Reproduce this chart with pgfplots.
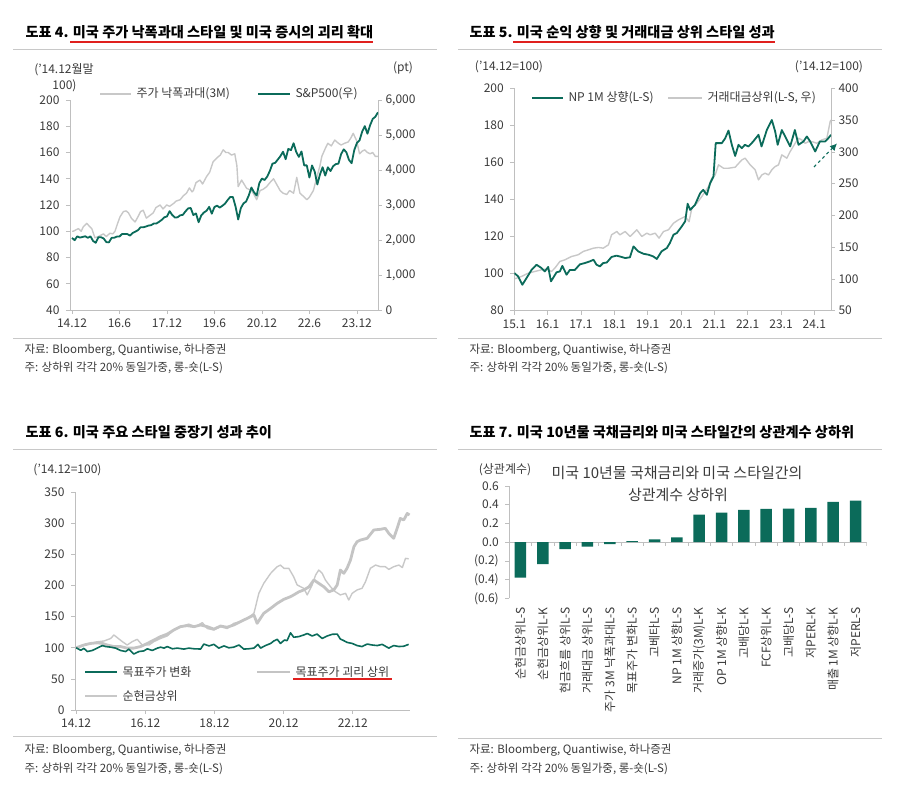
\documentclass[border=0pt]{standalone}
\usepackage{fontspec}
\setmainfont{Noto Sans CJK KR}
\usepackage{pgfplots}
\pgfplotsset{compat=1.18}
\usetikzlibrary{arrows.meta}
\definecolor{tgreen}{HTML}{0B6B5A}
\definecolor{lgray}{HTML}{C8C8C8}
\definecolor{tgray}{HTML}{C4C4C4}
\definecolor{axgray}{HTML}{BFBFBF}
\definecolor{txt}{HTML}{3A3A3A}
\definecolor{rulegray}{HTML}{C8C8C8}
\definecolor{ured}{HTML}{E0201E}
\begin{document}
\begin{tikzpicture}[x=1pt,y=1pt]
\path[use as bounding box] (0,0) rectangle (900,802);
\pgfplotsset{
  base/.style={scale only axis, anchor=south west,
    axis line style={draw=axgray,-}, tick style={draw=axgray, line width=0.6pt},
    major tick length=4pt, tick align=outside,
    tick label style={font=\fontsize{12}{13}\selectfont, text=txt},
    xticklabel style={yshift=-1.5pt},
    /pgf/number format/assume math mode=true,
    every axis plot/.append style={line join=round}},
  leftax/.style={yticklabel style={xshift=-3pt}},
}
\tikzset{ttl/.style={anchor=base west, font=\fontsize{14.2}{16}\selectfont\bfseries, text=black},
  lab/.style={font=\fontsize{12}{13}\selectfont, text=txt},
  src/.style={anchor=west, font=\fontsize{11.5}{13}\selectfont, text=txt}}

% ================= Panel 1 =================
\node[ttl] at (22,764) {도표 4. 미국 주가 낙폭과대 스타일 및 미국 증시의 괴리 확대};
\draw[ured, line width=1.5pt] (70,760) -- (373,760);
\draw[rulegray, line width=0.8pt] (13,752.5) -- (437,752.5);
\node[lab] at (64,732) {('14.12월말};
\node[lab] at (64.5,716) {100)};
\node[lab] at (403,734) {(pt)};
\draw[lgray, line width=1.4pt] (100,708) -- (131,708);
\node[lab, anchor=west] at (133,708) {주가 낙폭과대(3M)};
\draw[tgreen, line width=1.8pt] (258,708) -- (290,708);
\node[lab, anchor=west] at (292,708) {S\&P500(우)};

\begin{axis}[base, leftax, at={(70pt,492pt)}, width=308pt, height=210pt,
  xmin=-0.76, xmax=116, ymin=40, ymax=200,
  axis x line*=bottom, axis y line*=left,
  xtick={0,18,36,54,72,90,108}, xticklabels={14.12,16.6,17.12,19.6,20.12,22.6,23.12},
  ytick={40,60,80,100,120,140,160,180,200}]
\addplot[lgray, line width=1.4pt] coordinates {
(0,100)(0.5,100)(2.4,102)(3.5,100)(4.3,103.5)(5.6,106)(6.5,104)(7.5,102)(8.7,95)(10,96)
(11.9,98)(13,96)(14.4,98.5)(15.5,98)(16.3,100)(17.3,106)(18.2,111)(19.5,115)(20.5,115.5)(21.4,114)
(22.5,110)(23.9,107)(25,111)(26,115)(27,116)(28.2,110)(29.5,112)(30.8,114)(31.8,118)(33.4,120)
(34.5,117)(35.9,120)(37,119)(38.4,121)(39.5,123)(41,124)(42.2,127)(43.4,129)(44.5,133)(45.5,130)
(46,131)(47,137)(48.5,139)(49.5,136)(51,141.6)(52.2,145)(53.5,153)(55,156)(56.2,158)(57.3,162)
(58.3,160)(59.2,160)(60.5,158)(61.7,159)(62.5,150)(63,134)(64.3,139)(65.2,136)(66.2,132.7)(68,131)
(69,128)(70,124)(71.3,131)(72.5,132)(73.8,134)(75,137)(76.4,140)(77.5,136)(78.9,131)(80,129)
(81.4,128)(82.5,131)(84,129)(85.2,141)(86.4,129)(87.5,127)(89,124)(90,126)(91.5,131)(92.8,141)
(94,150)(94.7,157)(96,163)(97,167)(98.3,165)(99.6,169.5)(101,167)(102,165.7)(103.3,167)(104.7,168)
(105.7,171)(106.6,174.6)(107.9,169)(109,159)(110,161)(111,162)(112,160)(113,159)(114,160)(115,157)(116,157)};
\end{axis}
\begin{axis}[base, at={(70pt,492pt)}, width=308pt, height=210pt,
  xmin=-0.76, xmax=116, ymin=0, ymax=6000,
  axis x line=none, axis y line*=right,
  ytick={0,1000,2000,3000,4000,5000,6000},
  yticklabels={0,{1,000},{2,000},{3,000},{4,000},{5,000},{6,000}}]
\addplot[tgreen, line width=1.8pt] coordinates {
(0,2059)(1,1995)(2,2105)(3,2068)(4,2086)(5,2107)(6,2063)(7,2104)(8,1972)(9,1920)(10,2079)(11,2080)
(12,2044)(13,1940)(14,1932)(15,2060)(16,2065)(17,2097)(18,2099)(19,2174)(20,2171)(21,2168)(22,2126)(23,2199)
(24,2239)(25,2279)(26,2364)(27,2363)(28,2384)(29,2412)(30,2423)(31,2470)(32,2472)(33,2519)(34,2575)(35,2648)
(36,2674)(37,2824)(38,2714)(39,2641)(40,2648)(41,2705)(42,2718)(43,2816)(44,2902)(45,2914)(46,2712)(47,2760)
(48,2507)(49,2704)(50,2784)(51,2834)(52,2946)(53,2752)(54,2942)(55,2980)(56,2926)(57,2977)(58,3038)(59,3141)
(60,3231)(61,3226)(62,2954)(63,2585)(64,2912)(65,3044)(66,3100)(67,3271)(68,3500)(69,3363)(70,3270)(71,3622)
(72,3756)(73,3714)(74,3811)(75,3973)(76,4181)(77,4204)(78,4298)(79,4395)(80,4523)(81,4308)(82,4605)(83,4567)
(84,4766)(85,4516)(86,4374)(87,4530)(88,4132)(89,4132)(90,3785)(91,4130)(92,3955)(93,3586)(94,3872)(95,4080)
(96,3840)(97,4077)(98,3970)(99,4109)(100,4169)(101,4180)(102,4450)(103,4589)(104,4508)(105,4288)(106,4194)(107,4568)
(108,4770)(109,4846)(110,5096)(111,5254)(112,5036)(113,5278)(114,5460)(115,5522)(116,5648)};
\end{axis}
\draw[rulegray, line width=0.8pt] (13,464) -- (437,464);
\node[src] at (21,452) {자료: Bloomberg, Quantiwise, 하나증권};
\node[src] at (21,434) {주: 상하위 각각 20\% 동일가중, 롱-숏(L-S)};

% ================= Panel 2 =================
\node[ttl] at (466,764) {도표 5. 미국 순익 상향 및 거래대금 상위 스타일 성과};
\draw[ured, line width=1.5pt] (513,760) -- (775,760);
\draw[rulegray, line width=0.8pt] (458,752.5) -- (882,752.5);
\node[lab] at (509,735) {('14.12=100)};
\node[lab] at (829,735) {('14.12=100)};
\draw[tgreen, line width=1.8pt] (532,704) -- (563,704);
\node[lab, anchor=west] at (565,704) {NP 1M 상향(L-S)};
\draw[lgray, line width=1.4pt] (668,704) -- (702,704);
\node[lab, anchor=west] at (704,704) {거래대금상위(L-S, 우)};

\begin{axis}[base, at={(514.3pt,491.3pt)}, width=316.7pt, height=222.4pt,
  xmin=0, xmax=114, ymin=50, ymax=400,
  axis x line=none, axis y line*=right,
  ytick={50,100,150,200,250,300,350,400}]
\addplot[lgray, line width=1.4pt] coordinates {
(0,100)(2.6,103.9)(5,109)(7.4,111.7)(9.8,114.4)(11.6,115.4)(13.4,111.7)(14.6,117)(16.4,127.5)(18.2,130)
(20.6,135.3)(23,138)(24.8,143.2)(26.7,145.8)(28.5,148.4)(30.3,149.5)(32,148.4)(33.9,153.7)(35,169.4)(36.9,174.6)
(38,169.4)(39.9,174.6)(41.7,166.8)(42.9,172)(44.1,177.3)(45.9,166.8)(47.7,172)(48.9,169.4)(50.7,172)(52.1,164.2)
(53.7,174.6)(55.5,177.3)(57.3,187.7)(59.1,193)(61.5,198.2)(62.9,190)(63.9,211.3)(65.7,219)(67.5,229.7)(68.7,237.5)
(69.9,245.4)(71.1,258.5)(72.3,263.7)(73.5,279.5)(75.3,274.2)(77.1,274.2)(79.5,275.8)(81.9,287.3)(83.1,290)(84.9,279.5)
(86.7,271.6)(87.9,255.9)(89.1,263.7)(90.3,266.4)(91.5,263.7)(92.7,271.6)(93.9,276.8)(95.1,279.5)(96.3,295.2)(98.1,290)
(99.3,300.4)(101.1,313.5)(102.3,321.4)(103.5,318.8)(104.7,313.5)(105.9,316.1)(107.1,316.1)(108.9,313.5)(110.7,318.8)
(112.5,321.4)(113.7,347.6)(114,350)};
\end{axis}
\begin{axis}[base, leftax, at={(514.3pt,491.3pt)}, width=316.7pt, height=222.4pt,
  xmin=0, xmax=114, ymin=80, ymax=200,
  axis x line*=bottom, axis y line*=left,
  xtick={0,12,24,36,48,60,72,84,96,108},
  xticklabels={15.1,16.1,17.1,18.1,19.1,20.1,21.1,22.1,23.1,24.1},
  ytick={80,100,120,140,160,180,200}]
\addplot[tgreen, line width=1.8pt] coordinates {
(0,100.3)(1.4,98.5)(2.9,94)(4.4,97.6)(6.2,102)(8,104.8)(9.8,103)(11,101.2)(12.2,103.6)(13.2,95.8)
(15.2,100.7)(16.4,101.2)(17.3,104.2)(18.8,99.4)(20,102)(21.8,102)(23.6,105)(25.4,105.7)(27.2,106.6)(28.5,107.5)
(29.6,104.8)(30.8,103.9)(32,105.7)(33.3,106)(35,109)(36.8,109.7)(38.6,109)(39.9,108.4)(41.6,108.8)(42.9,114.7)
(44.6,112)(46.5,110.7)(48.3,110.2)(50,109.3)(51.3,107.9)(53,112)(54.9,113.8)(56,116.5)(57.3,121)(58.5,121.9)
(60.3,125.5)(61.5,128.2)(62.4,137.7)(63.3,134.4)(65,137)(66.9,143.4)(68,145.2)(69.3,142.5)(70.5,148.8)(71.7,152.4)
(72.5,170.4)(74.7,170.4)(75.9,173)(77.1,177.2)(78.3,169.5)(79.5,163.5)(80.7,169.5)(81.9,167.7)(83,169.5)(84.3,168.6)
(86,171.3)(87.9,174.9)(89,168.6)(90.9,177.5)(92.7,182.9)(93.9,176.7)(94.8,169.5)(96.3,177.5)(98.1,172.2)(99.3,168.6)
(101,177.5)(102.3,169.5)(104.1,171.3)(105.3,174)(106.5,171.3)(108.3,165.9)(110,171.3)(111.9,171.3)(113,173)(114,174.9)};
\end{axis}
\draw[tgreen, line width=1.1pt, dashed, -{Latex[length=7pt,width=7pt]}] (814,635) -- (837,658.5);
\draw[rulegray, line width=0.8pt] (458,464) -- (882,464);
\node[src] at (466,452) {자료: Bloomberg, Quantiwise, 하나증권};
\node[src] at (466,434) {주: 상하위 각각 20\% 동일가중, 롱-숏(L-S)};

% ================= Panel 3 =================
\node[ttl] at (22,364.5) {도표 6. 미국 주요 스타일 중장기 성과 추이};
\draw[rulegray, line width=0.8pt] (13,353) -- (437,353);
\node[lab] at (67.5,332) {('14.12=100)};
\begin{axis}[base, leftax, at={(75pt,92pt)}, width=335.4pt, height=217.7pt,
  xmin=-0.4, xmax=116, ymin=0, ymax=350,
  axis x line*=bottom, axis y line*=left,
  xtick={0,24,48,72,96}, xticklabels={14.12,16.12,18.12,20.12,22.12},
  ytick={0,50,100,150,200,250,300,350}]
\addplot[lgray, line width=1.4pt] coordinates {
(0,100)(2.7,104.5)(5,107)(7.3,109.6)(9.7,111)(12,115)(13.1,120.6)(16,110)(17.7,104.5)(19.5,110)
(21.2,113.6)(22.9,104.5)(25.3,104.5)(27,110)(29.3,115)(31.6,119)(33.9,128.6)(36.2,134)(39.1,138)(41.4,134)
(43.8,140.4)(45.5,131)(47.8,128.6)(50.1,134)(52.4,131)(54.7,139.3)(57,142)(59.4,147.4)(61.7,155.4)(63.4,187.6)
(65.1,203.6)(67.5,219.7)(69.8,230.4)(70.9,233)(72.1,227.8)(73.8,227.8)(75.5,214)(76.7,201)(79,195.6)(80.2,185)
(81.9,201)(83.1,217)(84.2,225)(85.4,219.7)(86.5,209)(88.3,198)(90,190)(91.7,185)(93.5,187.6)(94.6,176.8)
(95.8,187.6)(97.5,193)(99.2,195.6)(100.4,206)(102.1,227.8)(103.9,233)(105.6,230.4)(107.3,230.4)(108.5,226)(110.2,230.4)
(112,233)(113.2,229)(114.3,243.8)(115.4,243)};
\addplot[tgray, line width=2.8pt] coordinates {
(0,100)(2.7,104.5)(5,107)(7.3,108)(9.1,107)(10.8,104.5)(13.1,102)(15.4,102)(17.7,99.5)(20,99.5)
(22.4,102)(24.7,107)(27,112.5)(29.3,118)(31.6,122)(33.9,128.6)(36.2,134)(38.5,135.6)(40.9,134)(43.2,136.7)
(45.5,134)(47.8,130)(50.1,135)(52.4,133)(54.7,136.7)(57,142)(59.4,147.4)(61.7,152.7)(62.8,139.3)(65.1,155.4)
(67.5,163.4)(69.8,171.5)(72.1,178)(74.4,182.2)(75.5,185)(77.3,190)(79,193)(80.8,198)(82.5,209)(84.2,203.6)
(86,198)(87.7,190)(89.4,193)(90.6,201)(91.7,225)(92.9,219.7)(94,227.8)(95.2,241)(96.4,262.6)(97.5,270.6)
(98.7,273.3)(101,276)(103.3,289.4)(105.6,290.5)(107.3,292)(108.5,284)(110.2,276)(111.4,292)(112.5,308)(113.7,305.5)
(114.9,316)(115.7,313.5)};
\addplot[tgreen, line width=1.6pt] coordinates {
(0,100)(1.6,96)(2.7,99)(3.9,94)(5.6,95.7)(7.3,99.5)(9.1,103.6)(10.2,102)(12,101)(13.7,99.5)
(15.4,95.7)(17.2,94)(18.3,97.9)(20,90)(21.8,94)(23.5,95)(24.7,98.4)(26.4,95.7)(28.2,99.5)(29.3,101)
(30.5,99.5)(31.6,102)(33.4,98.4)(35.1,99.5)(37.4,97.9)(39.1,99.5)(40.9,98.4)(43.2,98)(44.3,106)(46.1,103)
(47.8,105.5)(49.5,99.5)(51.3,103)(53,100)(54.7,101)(56.5,104.5)(58.2,97.9)(59.9,98.4)(61.7,99.5)(63.1,105.5)
(64,99.5)(65.7,103.6)(67.5,107)(68.6,111)(69.8,113.6)(70.9,107)(72.3,112.5)(73.2,111.5)(74.4,124)(75.5,117)
(77.3,118)(79,120.6)(80.2,123)(81.9,119)(83.6,122)(85.4,115)(87.1,119)(88.9,121.7)(90.6,122)(91.7,114)
(92.9,111.5)(94,108.7)(95.8,107)(97.5,103.6)(99.2,102)(101,106)(102.7,104.5)(104.5,103.6)(106.2,105.5)(108.5,99.5)
(110.2,103.6)(112,102)(113.7,102.5)(115.4,105.5)};
\end{axis}
\draw[tgreen, line width=1.6pt] (85,130) -- (117,130);
\node[lab, anchor=west] at (119,130) {목표주가 변화};
\draw[tgray, line width=2.8pt] (257,130) -- (290,130);
\node[lab, anchor=west] at (292,130) {목표주가 괴리 상위};
\draw[ured, line width=1.3pt] (293,123) -- (392,123);
\draw[lgray, line width=1.4pt] (85,106) -- (117,106);
\node[lab, anchor=west] at (119,106) {순현금상위};
\draw[rulegray, line width=0.8pt] (13,65.3) -- (437,65.3);
\node[src] at (21,52) {자료: Bloomberg, Quantiwise, 하나증권};
\node[src] at (21,33) {주: 상하위 각각 20\% 동일가중, 롱-숏(L-S)};

% ================= Panel 4 =================
\node[ttl] at (466,364.5) {도표 7. 미국 10년물 국채금리와 미국 스타일간의 상관계수 상하위};
\draw[rulegray, line width=0.8pt] (458,353) -- (882,353);
\node[lab] at (505,332) {(상관계수)};
\node[font=\fontsize{15}{17}\selectfont, text=txt] at (677,329) {미국 10년물 국채금리와 미국 스타일간의};
\node[font=\fontsize{15}{17}\selectfont, text=txt] at (678,307) {상관계수 상하위};
\begin{axis}[base, leftax, at={(509.3pt,203.7pt)}, width=357.4pt, height=112.3pt,
  ybar, bar width=11.5pt, xmin=0.5, xmax=16.5, ymin=-0.6, ymax=0.6,
  axis y line*=left, axis x line*=bottom, x axis line style={draw=none},
  xtick={1,2,3,4,5,6,7,8,9,10,11,12,13,14,15,16}, xtick style={draw=none},
  xticklabels={순현금상위L-S,순현금상위L-K,현금흐름 상위L-S,거래대금 상위L-S,주가 3M 낙폭과대L-S,목표주가 변화L-S,고베타L-S,NP 1M 상향L-S,거래증가(3M)L-K,OP 1M 상향L-K,고배당L-K,FCF상위L-K,고배당L-S,저PERL-K,매출 1M 상향L-K,저PERL-S},
  xticklabel style={rotate=90, anchor=east, yshift=0pt, font=\fontsize{12}{13}\selectfont},
  ytick={-0.6,-0.4,-0.2,0,0.2,0.4,0.6},
  yticklabels={(0.6),(0.4),(0.2),0.0,0.2,0.4,0.6}]
\draw[axgray, line width=0.7pt] (axis cs:0.5,0) -- (axis cs:16.5,0);
\pgfplotsinvokeforeach{0.5,1.5,2.5,3.5,4.5,5.5,6.5,7.5,8.5,9.5,10.5,11.5,12.5,13.5,14.5,15.5,16.5}{
  \draw[axgray, line width=0.6pt] (axis cs:#1,0) -- (axis cs:#1,-0.04);}
\addplot[fill=tgreen, draw=none] coordinates {
(1,-0.38)(2,-0.235)(3,-0.075)(4,-0.047)(5,-0.02)(6,0.01)(7,0.03)(8,0.05)
(9,0.295)(10,0.316)(11,0.344)(12,0.355)(13,0.359)(14,0.366)(15,0.43)(16,0.444)};
\end{axis}
\draw[rulegray, line width=0.8pt] (458,63.7) -- (882,63.7);
\node[src] at (466,52) {자료: Bloomberg, Quantiwise, 하나증권};
\node[src] at (466,33) {주: 상하위 각각 20\% 동일가중, 롱-숏(L-S)};
\end{tikzpicture}
\end{document}
